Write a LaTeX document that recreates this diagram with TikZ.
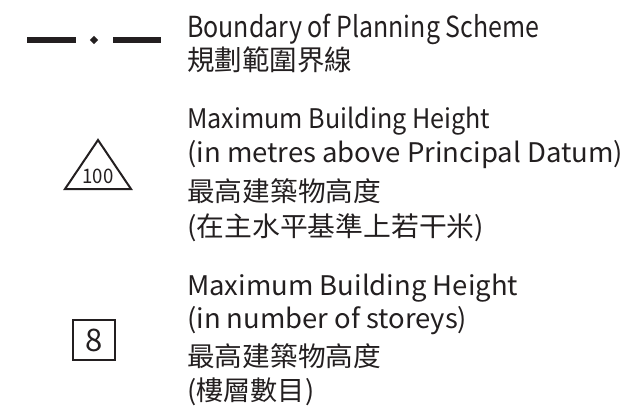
\documentclass[tikz,border=0pt]{standalone}
\usepackage{fontspec}
\setmainfont{Noto Sans CJK TC}
\usetikzlibrary{shapes.geometric}
\definecolor{ink}{HTML}{231F20}
\newcommand\fitw[2]{\resizebox{#1}{\height}{#2}}
\tikzset{
  lbl/.style={anchor=base west, inner sep=0pt, text=ink, font=\fontsize{27}{33}\selectfont},
  biglbl/.style={lbl, font=\fontsize{29}{33}\selectfont},
  dashbar/.style={draw=ink, line width=5.5pt},
}
\begin{document}
\begin{tikzpicture}[x=1pt,y=-1pt]
\useasboundingbox (0,0) rectangle (629,408);
% boundary symbol
\coordinate (d1a) at (27,40);
\coordinate (d1b) at (76,40);
\coordinate (d2a) at (113,40);
\coordinate (d2b) at (161,40);
\draw[dashbar] (d1a) -- (d1b);
\draw[dashbar] (d2a) -- (d2b);
\node[diamond, fill=ink, inner sep=0pt, minimum size=8.5pt] (dot) at (94,40) {};
% triangle
\coordinate (tA) at (98,140);
\coordinate (tB) at (65,189);
\coordinate (tC) at (131,189);
\draw[ink, line width=2pt, line join=miter] (tA) -- (tB) -- (tC) -- cycle;
\node[anchor=base, inner sep=0pt, text=ink, font=\fontsize{20}{20}\selectfont] (h100) at (98,183) {\fitw{31pt}{100}};
% square
\node[draw=ink, line width=1.5pt, minimum width=42pt, minimum height=40pt, inner sep=0pt, text=ink, font=\fontsize{31}{31}\selectfont] (s8) at (94,340) {8};
% texts
\node[biglbl] (t1a) at (187,37) {\fitw{352pt}{Boundary of Planning Scheme}};
\node[lbl, font=\fontsize{28}{33}\selectfont] (t1b) at (187,70) {\fitw{165pt}{規劃範圍界線}};
\node[lbl] (t2a) at (187,128) {\fitw{303pt}{Maximum Building Height}};
\node[lbl] (t2b) at (187,162) {\fitw{436pt}{(in metres above Principal Datum)}};
\node[lbl] (t2c) at (187,201) {\fitw{194pt}{最高建築物高度}};
\node[lbl] (t2d) at (187,236) {\fitw{297pt}{(在主水平基準上若干米)}};
\node[lbl] (t3a) at (187,295) {\fitw{331pt}{Maximum Building Height}};
\node[lbl] (t3b) at (187,328) {\fitw{280pt}{(in number of storeys)}};
\node[lbl] (t3c) at (187,366) {\fitw{194pt}{最高建築物高度}};
\node[lbl] (t3d) at (187,400) {\fitw{127pt}{(樓層數目)}};
\end{tikzpicture}
\end{document}
